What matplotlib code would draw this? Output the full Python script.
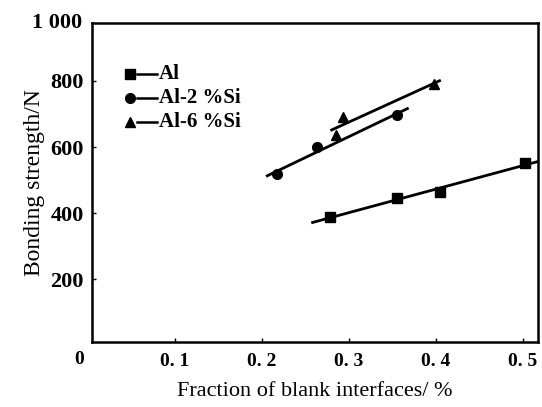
import numpy as np
import matplotlib
matplotlib.use("Agg")
import matplotlib.pyplot as plt

plt.rcParams['font.family'] = ['Liberation Serif', 'DejaVu Serif']

# data
al_x = [0.278, 0.356, 0.405, 0.503]
al_y = [388, 445, 464, 551]
al2_x = [0.218, 0.264, 0.356]
al2_y = [518, 600, 697]
al6_x = [0.285, 0.294, 0.398]
al6_y = [636, 691, 791]

# x extent of each fitted line
al_span = [0.257, 0.518]
al2_span = [0.205, 0.369]
al6_span = [0.279, 0.406]

series = [
    ("Al", al_x, al_y, al_span, "s"),
    ("Al-2 %Si", al2_x, al2_y, al2_span, "o"),
    ("Al-6 %Si", al6_x, al6_y, al6_span, "^"),
]

xticks = [0.1, 0.2, 0.3, 0.4, 0.5]
xlabels = ["0. 1", "0. 2", "0. 3", "0. 4", "0. 5"]
yticks = [200, 400, 600, 800]

fig = plt.figure(figsize=(5.42, 4.07), dpi=100)
ax = fig.add_axes([0.170, 0.160, 0.823, 0.783])

for name, xs, ys, span, mk in series:
    k, b = np.polyfit(xs, ys, 1)
    sx = np.array(span)
    ax.plot(sx, k * sx + b, color="black", lw=2.0, solid_capstyle="butt")
    ax.plot(xs, ys, linestyle="none", marker=mk, color="black", markersize=7)

ax.set_xlim(0.005, 0.518)
ax.set_ylim(10, 975)
ax.set_xticks(xticks)
ax.set_xticklabels(xlabels, fontweight="bold", fontsize=14)
ax.set_yticks(yticks)
ax.set_yticklabels([str(v) for v in yticks], fontweight="bold", fontsize=16)
ax.tick_params(direction="in", length=3, width=1, pad=6)
ax.tick_params(axis="x", pad=8)
for s in ax.spines.values():
    s.set_linewidth(1.8)

# corner labels
ax.text(-0.022, 1.0, "1 000", transform=ax.transAxes, ha="right", va="center",
        fontweight="bold", fontsize=16)
ax.text(-0.03, -0.03, "0", transform=ax.transAxes, ha="center", va="top",
        fontweight="bold", fontsize=14)

ax.set_xlabel("Fraction of blank interfaces/ %", fontsize=16, labelpad=9)
ax.set_ylabel("Bonding strength/N", fontsize=17, labelpad=4)

# legend: marker, then a short dash, then the name
rows = [0.840, 0.765, 0.690]
for (name, xs, ys, span, mk), ry in zip(series, rows):
    ax.plot([0.085], [ry], marker=mk, color="black", markersize=7,
            transform=ax.transAxes, clip_on=False)
    ax.plot([0.100, 0.146], [ry, ry], color="black", lw=1.8, transform=ax.transAxes)
    ax.text(0.150, ry, name, transform=ax.transAxes, ha="left", va="center",
            fontsize=15, fontweight="bold")

fig.savefig("out.png", dpi=100)
